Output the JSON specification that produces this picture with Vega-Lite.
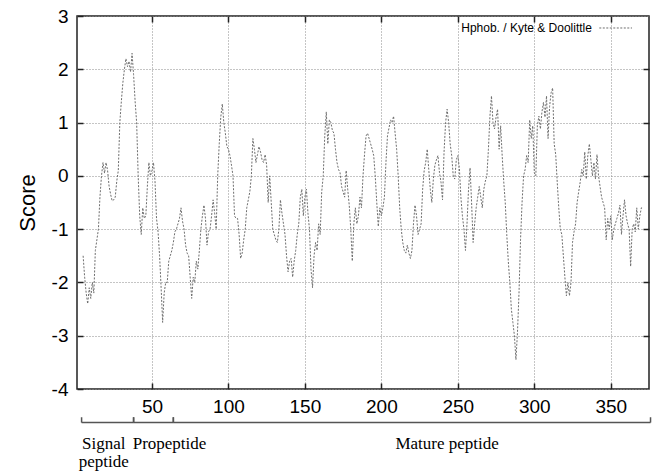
{
  "$schema": "https://vega.github.io/schema/vega-lite/v6.json",
  "width": 572,
  "height": 373,
  "autosize": {"type": "none"},
  "padding": {"left": 77, "top": 16, "right": 8, "bottom": 82},
  "background": "white",
  "config": {
    "view": {"stroke": "#222222", "strokeWidth": 1.5},
    "font": "Liberation Sans"
  },
  "datasets": {
    "profile": [
      {"position":5,"score":-1.5},{"position":6,"score":-1.9},{"position":7,"score":-2.2},{"position":8,"score":-2.4},{"position":9,"score":-2.1},{"position":10,"score":-2.3},{"position":11,"score":-2.0},{"position":12,"score":-2.2},{"position":13,"score":-1.4},{"position":14,"score":-1.2},{"position":15,"score":-1.0},{"position":16,"score":-0.4},{"position":17,"score":0.0},{"position":18,"score":0.25},{"position":19,"score":0.05},{"position":20,"score":0.25},{"position":21,"score":0.1},{"position":22,"score":-0.2},{"position":23,"score":-0.35},{"position":24,"score":-0.47},{"position":25,"score":-0.45},{"position":26,"score":-0.4},{"position":27,"score":-0.1},{"position":28,"score":0.1},{"position":29,"score":1.0},{"position":30,"score":1.4},{"position":31,"score":1.75},{"position":32,"score":2.0},{"position":33,"score":2.2},{"position":34,"score":2.05},{"position":35,"score":2.15},{"position":36,"score":1.95},{"position":37,"score":2.3},{"position":38,"score":1.9},{"position":39,"score":1.4},{"position":40,"score":1.0},{"position":41,"score":0.0},{"position":42,"score":-0.75},{"position":43,"score":-1.1},{"position":44,"score":-0.6},{"position":45,"score":-0.8},{"position":46,"score":-0.75},{"position":47,"score":-0.2},{"position":48,"score":0.25},{"position":49,"score":0.0},{"position":50,"score":0.1},{"position":51,"score":0.25},{"position":52,"score":-0.1},{"position":53,"score":-0.8},{"position":54,"score":-1.05},{"position":55,"score":-1.5},{"position":56,"score":-2.1},{"position":57,"score":-2.75},{"position":58,"score":-2.2},{"position":59,"score":-2.0},{"position":60,"score":-2.0},{"position":61,"score":-1.6},{"position":62,"score":-1.5},{"position":63,"score":-1.4},{"position":64,"score":-1.25},{"position":65,"score":-1.05},
      {"position":66,"score":-1.0},{"position":67,"score":-0.9},{"position":68,"score":-0.8},{"position":69,"score":-0.6},{"position":70,"score":-0.85},{"position":71,"score":-1.0},{"position":72,"score":-1.3},{"position":73,"score":-1.45},{"position":74,"score":-1.5},{"position":75,"score":-1.9},{"position":76,"score":-2.3},{"position":77,"score":-1.9},{"position":78,"score":-2.0},{"position":79,"score":-1.6},{"position":80,"score":-1.75},{"position":81,"score":-1.4},{"position":82,"score":-1.0},{"position":83,"score":-0.75},{"position":84,"score":-0.55},{"position":85,"score":-0.8},{"position":86,"score":-1.3},{"position":87,"score":-1.05},{"position":88,"score":-1.0},{"position":89,"score":-0.75},{"position":90,"score":-0.45},{"position":91,"score":-0.7},{"position":92,"score":-1.0},{"position":93,"score":0.0},{"position":94,"score":0.6},{"position":95,"score":1.1},{"position":96,"score":1.35},{"position":97,"score":1.0},{"position":98,"score":0.8},{"position":99,"score":0.55},{"position":100,"score":0.5},{"position":101,"score":0.38},{"position":102,"score":0.2},{"position":103,"score":0.0},{"position":104,"score":-0.75},{"position":105,"score":-0.8},{"position":106,"score":-0.8},{"position":107,"score":-1.1},{"position":108,"score":-1.55},{"position":109,"score":-1.45},{"position":110,"score":-1.2},{"position":111,"score":-1.0},{"position":112,"score":-0.6},{"position":113,"score":-0.45},{"position":114,"score":-0.3},{"position":115,"score":0.0},{"position":116,"score":0.7},{"position":117,"score":0.5},{"position":118,"score":0.25},{"position":119,"score":0.4},{"position":120,"score":0.55},{"position":121,"score":0.45},{"position":122,"score":0.3},{"position":123,"score":0.25},{"position":124,"score":0.4},{"position":125,"score":0.2},{"position":126,"score":-0.5},{"position":127,"score":0.0},
      {"position":128,"score":-0.5},{"position":129,"score":-1.0},{"position":130,"score":-1.1},{"position":131,"score":-1.2},{"position":132,"score":-1.25},{"position":133,"score":-1.0},{"position":134,"score":-0.45},{"position":135,"score":-0.7},{"position":136,"score":-0.9},{"position":137,"score":-1.1},{"position":138,"score":-1.5},{"position":139,"score":-1.8},{"position":140,"score":-1.6},{"position":141,"score":-1.55},{"position":142,"score":-1.9},{"position":143,"score":-1.6},{"position":144,"score":-1.4},{"position":145,"score":-1.1},{"position":146,"score":-0.9},{"position":147,"score":-0.4},{"position":148,"score":-0.25},{"position":149,"score":-0.75},{"position":150,"score":-0.4},{"position":151,"score":-0.25},{"position":152,"score":-0.7},{"position":153,"score":-1.0},{"position":154,"score":-1.75},{"position":155,"score":-2.1},{"position":156,"score":-1.5},{"position":157,"score":-1.25},{"position":158,"score":-1.4},{"position":159,"score":-0.9},{"position":160,"score":-1.1},{"position":161,"score":-0.3},{"position":162,"score":0.0},{"position":163,"score":0.75},{"position":164,"score":1.2},{"position":165,"score":0.6},{"position":166,"score":1.05},{"position":167,"score":1.0},{"position":168,"score":0.85},{"position":169,"score":0.8},{"position":170,"score":0.5},{"position":171,"score":0.25},{"position":172,"score":0.12},{"position":173,"score":0.06},{"position":174,"score":-0.2},{"position":175,"score":-0.3},{"position":176,"score":-0.4},{"position":177,"score":0.1},{"position":178,"score":-0.25},{"position":179,"score":-0.55},{"position":180,"score":-1.0},{"position":181,"score":-1.6},{"position":182,"score":-0.9},{"position":183,"score":-0.6},{"position":184,"score":-0.9},{"position":185,"score":-0.75},{"position":186,"score":-0.4},{"position":187,"score":-0.6},{"position":188,"score":0.0},{"position":189,"score":0.4},
      {"position":190,"score":0.75},{"position":191,"score":0.8},{"position":192,"score":0.7},{"position":193,"score":0.6},{"position":194,"score":0.5},{"position":195,"score":0.38},{"position":196,"score":0.0},{"position":197,"score":-0.5},{"position":198,"score":-0.95},{"position":199,"score":-0.6},{"position":200,"score":-0.75},{"position":201,"score":-0.6},{"position":202,"score":-0.4},{"position":203,"score":0.25},{"position":204,"score":0.75},{"position":205,"score":0.9},{"position":206,"score":1.05},{"position":207,"score":1.0},{"position":208,"score":1.12},{"position":209,"score":0.8},{"position":210,"score":0.5},{"position":211,"score":0.0},{"position":212,"score":-0.6},{"position":213,"score":-1.0},{"position":214,"score":-1.25},{"position":215,"score":-1.4},{"position":216,"score":-1.45},{"position":217,"score":-1.3},{"position":218,"score":-1.45},{"position":219,"score":-1.55},{"position":220,"score":-1.4},{"position":221,"score":-0.9},{"position":222,"score":-0.55},{"position":223,"score":-0.75},{"position":224,"score":-1.1},{"position":225,"score":-1.0},{"position":226,"score":-0.9},{"position":227,"score":-0.25},{"position":228,"score":0.1},{"position":229,"score":0.25},{"position":230,"score":0.5},{"position":231,"score":0.12},{"position":232,"score":-0.25},{"position":233,"score":-0.5},{"position":234,"score":-0.06},{"position":235,"score":0.2},{"position":236,"score":0.3},{"position":237,"score":0.38},{"position":238,"score":0.06},{"position":239,"score":-0.12},{"position":240,"score":-0.45},{"position":241,"score":0.45},{"position":242,"score":1.0},{"position":243,"score":1.25},{"position":244,"score":1.0},{"position":245,"score":0.6},{"position":246,"score":0.38},{"position":247,"score":0.0},{"position":248,"score":-0.06},{"position":249,"score":0.3},{"position":250,"score":0.38},
      {"position":251,"score":0.15},{"position":252,"score":-0.4},{"position":253,"score":-0.75},{"position":254,"score":-1.0},{"position":255,"score":-1.4},{"position":256,"score":-0.9},{"position":257,"score":-0.25},{"position":258,"score":0.15},{"position":259,"score":-0.5},{"position":260,"score":-1.25},{"position":261,"score":-0.9},{"position":262,"score":-0.6},{"position":263,"score":-0.4},{"position":264,"score":-0.2},{"position":265,"score":-0.4},{"position":266,"score":-0.6},{"position":267,"score":-0.25},{"position":268,"score":-0.1},{"position":269,"score":0.0},{"position":270,"score":0.5},{"position":271,"score":1.12},{"position":272,"score":1.5},{"position":273,"score":1.0},{"position":274,"score":0.88},{"position":275,"score":1.1},{"position":276,"score":1.25},{"position":277,"score":0.5},{"position":278,"score":0.94},{"position":279,"score":0.38},{"position":280,"score":-0.1},{"position":281,"score":-0.5},{"position":282,"score":-1.1},{"position":283,"score":-1.6},{"position":284,"score":-2.0},{"position":285,"score":-2.5},{"position":286,"score":-2.75},{"position":287,"score":-3.0},{"position":288,"score":-3.45},{"position":289,"score":-2.94},{"position":290,"score":-2.2},{"position":291,"score":-1.2},{"position":292,"score":-0.5},{"position":293,"score":0.0},{"position":294,"score":0.12},{"position":295,"score":0.38},{"position":296,"score":0.25},{"position":297,"score":1.05},{"position":298,"score":0.7},{"position":299,"score":0.94},{"position":300,"score":0.06},{"position":301,"score":0.0},{"position":302,"score":0.94},{"position":303,"score":1.12},{"position":304,"score":0.88},{"position":305,"score":1.2},{"position":306,"score":1.38},{"position":307,"score":1.1},{"position":308,"score":1.5},{"position":309,"score":0.7},{"position":310,"score":1.3},{"position":311,"score":1.56},{"position":312,"score":1.65},
      {"position":313,"score":0.6},{"position":314,"score":0.4},{"position":315,"score":-0.12},{"position":316,"score":-0.6},{"position":317,"score":-1.0},{"position":318,"score":-1.1},{"position":319,"score":-1.5},{"position":320,"score":-1.9},{"position":321,"score":-2.25},{"position":322,"score":-2.0},{"position":323,"score":-2.25},{"position":324,"score":-2.0},{"position":325,"score":-1.25},{"position":326,"score":-1.05},{"position":327,"score":-0.9},{"position":328,"score":-0.5},{"position":329,"score":-0.3},{"position":330,"score":-0.12},{"position":331,"score":0.12},{"position":332,"score":0.0},{"position":333,"score":0.45},{"position":334,"score":-0.06},{"position":335,"score":0.38},{"position":336,"score":0.6},{"position":337,"score":0.3},{"position":338,"score":0.0},{"position":339,"score":0.25},{"position":340,"score":-0.06},{"position":341,"score":0.4},{"position":342,"score":0.0},{"position":343,"score":-0.2},{"position":344,"score":-0.4},{"position":345,"score":-0.5},{"position":346,"score":-0.6},{"position":347,"score":-1.2},{"position":348,"score":-0.8},{"position":349,"score":-1.0},{"position":350,"score":-0.75},{"position":351,"score":-1.2},{"position":352,"score":-1.0},{"position":353,"score":-0.9},{"position":354,"score":-0.8},{"position":355,"score":-0.7},{"position":356,"score":-0.55},{"position":357,"score":-1.1},{"position":358,"score":-0.75},{"position":359,"score":-0.45},{"position":360,"score":-0.75},{"position":361,"score":-0.9},{"position":362,"score":-1.0},{"position":363,"score":-1.7},{"position":364,"score":-1.0},{"position":365,"score":-0.9},{"position":366,"score":-1.05},{"position":367,"score":-0.6},{"position":368,"score":-1.0},{"position":369,"score":-0.75},{"position":370,"score":-0.6},{"position":371,"score":-0.6}
    ],
    "segments": [
      {"segment": "Signal peptide", "start": 4, "end": 38},
      {"segment": "Propeptide", "start": 38, "end": 64},
      {"segment": "Mature peptide", "start": 64, "end": 376}
    ],
    "labels": [
      {"label": "Signal\npeptide", "at": 18.5},
      {"label": "Propeptide", "at": 61.5},
      {"label": "Mature peptide", "at": 243}
    ],
    "series": [
      {"series": "Hphob. / Kyte & Doolittle"}
    ]
  },
  "layer": [
    {
      "data": {"name": "profile"},
      "mark": {"type": "line", "color": "#6e6e6e", "strokeWidth": 1, "strokeDash": [2, 1.5]},
      "encoding": {
        "x": {
          "field": "position", "type": "quantitative",
          "scale": {"domain": [1, 375], "nice": false, "zero": false},
          "axis": {
            "orient": "bottom", "values": [50, 100, 150, 200, 250, 300, 350], "title": null,
            "grid": true, "gridColor": "#8a8a8a", "gridDash": [1, 2], "gridWidth": 1,
            "domain": false, "ticks": true, "tickSize": -6, "tickColor": "#222222", "tickWidth": 1.5,
            "labelFont": "Liberation Sans", "labelFontSize": 19, "labelColor": "#000000", "labelPadding": 14,
            "labelFlush": false
          }
        },
        "y": {
          "field": "score", "type": "quantitative",
          "scale": {"domain": [-4, 3], "nice": false, "zero": false},
          "axis": {
            "orient": "left", "values": [-4, -3, -2, -1, 0, 1, 2, 3], "title": "Score",
            "labelExpr": "toString(datum.value)",
            "grid": true, "gridColor": "#8a8a8a", "gridDash": [1, 2], "gridWidth": 1,
            "domain": false, "ticks": true, "tickSize": -6, "tickColor": "#222222", "tickWidth": 1.5,
            "labelFont": "Liberation Sans", "labelFontSize": 19, "labelColor": "#000000", "labelPadding": 15,
            "titleFont": "Liberation Sans", "titleFontSize": 22, "titleFontWeight": "normal", "titleColor": "#000000",
            "titlePadding": 12
          }
        }
      }
    },
    {
      "data": {"name": "profile"},
      "mark": {"type": "line", "opacity": 0},
      "encoding": {
        "x": {
          "field": "position", "type": "quantitative",
          "scale": {"domain": [1, 375], "nice": false, "zero": false},
          "axis": {"orient": "top", "values": [50, 100, 150, 200, 250, 300, 350], "title": null, "labels": false, "grid": false, "domain": false, "tickSize": -6, "tickColor": "#222222", "tickWidth": 1.5}
        },
        "y": {
          "field": "score", "type": "quantitative",
          "scale": {"domain": [-4, 3], "nice": false, "zero": false},
          "axis": {"orient": "right", "values": [-3, -2, -1, 0, 1, 2], "title": null, "labels": false, "grid": false, "domain": false, "tickSize": -6, "tickColor": "#222222", "tickWidth": 1.5}
        }
      }
    },
    {
      "data": {"name": "series"},
      "mark": {"type": "text", "align": "right", "baseline": "middle", "font": "Liberation Sans", "fontSize": 12, "color": "#000000"},
      "encoding": {
        "x": {"datum": 337.7, "type": "quantitative", "scale": {"domain": [1, 375], "nice": false, "zero": false}, "axis": null},
        "y": {"datum": 2.775, "type": "quantitative", "scale": {"domain": [-4, 3], "nice": false, "zero": false}, "axis": null},
        "text": {"field": "series"}
      }
    },
    {
      "data": {"name": "series"},
      "mark": {"type": "rule", "color": "#6e6e6e", "strokeWidth": 1, "strokeDash": [2, 1.5]},
      "encoding": {
        "x": {"datum": 342.5, "type": "quantitative", "scale": {"domain": [1, 375], "nice": false, "zero": false}, "axis": null},
        "x2": {"datum": 363.9},
        "y": {"datum": 2.775, "type": "quantitative", "scale": {"domain": [-4, 3], "nice": false, "zero": false}, "axis": null}
      }
    },
    {
      "data": {"name": "segments"},
      "mark": {"type": "rule", "color": "#555555", "strokeWidth": 1.5},
      "encoding": {
        "x": {"field": "start", "type": "quantitative", "scale": {"domain": [1, 375], "nice": false, "zero": false}, "axis": null},
        "x2": {"field": "end"},
        "y": {"datum": -4.63, "type": "quantitative", "scale": {"domain": [-4, 3], "nice": false, "zero": false}, "axis": null}
      }
    },
    {
      "data": {"name": "segments"},
      "mark": {"type": "rule", "color": "#555555", "strokeWidth": 1.5},
      "encoding": {
        "x": {"field": "start", "type": "quantitative", "scale": {"domain": [1, 375], "nice": false, "zero": false}, "axis": null},
        "y": {"datum": -4.63, "type": "quantitative", "scale": {"domain": [-4, 3], "nice": false, "zero": false}, "axis": null},
        "y2": {"datum": -4.53}
      }
    },
    {
      "data": {"name": "segments"},
      "mark": {"type": "rule", "color": "#555555", "strokeWidth": 1.5},
      "encoding": {
        "x": {"field": "end", "type": "quantitative", "scale": {"domain": [1, 375], "nice": false, "zero": false}, "axis": null},
        "y": {"datum": -4.63, "type": "quantitative", "scale": {"domain": [-4, 3], "nice": false, "zero": false}, "axis": null},
        "y2": {"datum": -4.53}
      }
    },
    {
      "data": {"name": "labels"},
      "mark": {"type": "text", "align": "center", "baseline": "alphabetic", "font": "Liberation Serif", "fontSize": 17, "color": "#000000", "lineBreak": "\n", "lineHeight": 18},
      "encoding": {
        "x": {"field": "at", "type": "quantitative", "scale": {"domain": [1, 375], "nice": false, "zero": false}, "axis": null},
        "y": {"datum": -5.12, "type": "quantitative", "scale": {"domain": [-4, 3], "nice": false, "zero": false}, "axis": null},
        "text": {"field": "label"}
      }
    }
  ],
  "resolve": {"axis": {"x": "independent", "y": "independent"}}
}
